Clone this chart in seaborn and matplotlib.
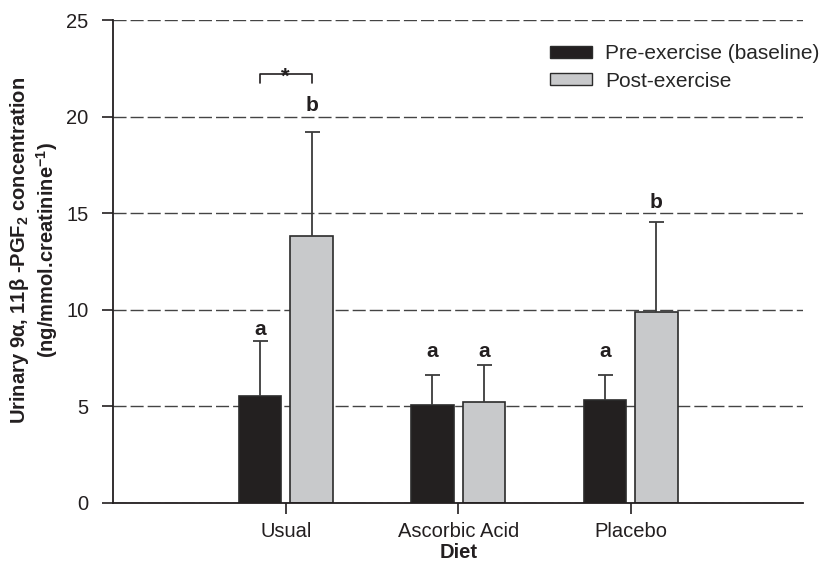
import numpy as np
import pandas as pd
import matplotlib
matplotlib.use("Agg")
import matplotlib.pyplot as plt
import seaborn as sns
from matplotlib.patches import Patch

# Urinary 9a,11b-PGF2 by diet, before and after exercise (mean and SD)
diets = ["Usual", "Ascorbic Acid", "Placebo"]
phases = ["Pre-exercise (baseline)", "Post-exercise"]
pre_mean = [5.5, 5.08, 5.3]
pre_sd = [2.9, 1.52, 1.3]
post_mean = [13.83, 5.2, 9.9]
post_sd = [5.37, 1.95, 4.65]
pre_letters = ["a", "a", "a"]
post_letters = ["b", "a", "b"]
y_ticks = [0, 5, 10, 15, 20, 25]

# baseline heights of the significance letters (data units)
pre_letter_y = [8.7, 7.55, 7.55]
post_letter_y = [20.3, 7.55, 15.25]

df = pd.DataFrame({
    "Diet": diets * 2,
    "Phase": [phases[0]] * len(diets) + [phases[1]] * len(diets),
    "value": pre_mean + post_mean,
})

sns.set_style("ticks")
plt.rcParams.update({
    "font.family": ["Liberation Sans", "DejaVu Sans"],
    "mathtext.fontset": "custom",
    "mathtext.rm": "Liberation Sans",
    "mathtext.bf": "Liberation Sans:bold",
    "mathtext.it": "Liberation Sans:italic",
})

ink = "#231f20"
colors = ["#231f20", "#c8c9cb"]

fig = plt.figure(figsize=(8.23, 5.7), dpi=100)
ax = fig.add_axes([0.1377, 0.1181, 0.838, 0.8468])

sns.barplot(data=df, x="Diet", y="value", hue="Phase", order=diets,
            hue_order=phases, palette=colors, width=0.6, gap=0.18,
            errorbar=None, edgecolor="#2b2b2b", linewidth=1.2,
            legend=False, ax=ax)

# one-sided (upper) SD bars
for cont, means, sds in zip(ax.containers, [pre_mean, post_mean], [pre_sd, post_sd]):
    xs = [b.get_x() + b.get_width() / 2 for b in cont]
    eb = ax.errorbar(xs, means, yerr=[np.zeros(len(sds)), sds], fmt="none",
                     ecolor="#3c3c3c", elinewidth=1.3, capsize=5.4,
                     capthick=1.3, zorder=3)
    for cap in eb[1]:
        if np.allclose(cap.get_ydata(), means):
            cap.set_visible(False)

# significance letters
for cont, letters, ly in zip(ax.containers, [pre_letters, post_letters],
                             [pre_letter_y, post_letter_y]):
    for b, lab, y in zip(cont, letters, ly):
        ax.text(b.get_x() + b.get_width() / 2, y, lab, ha="center",
                va="baseline", fontsize=15, fontweight="bold", color=ink)

# bracket between the Usual bars
b0 = ax.containers[0][0]
b1 = ax.containers[1][0]
x0 = b0.get_x() + b0.get_width() / 2
x1 = b1.get_x() + b1.get_width() / 2
ax.plot([x0, x0, x1, x1], [21.75, 22.2, 22.2, 21.75], color=ink, lw=1.2,
        zorder=3)
ax.text((x0 + x1) / 2, 21.75, "*", ha="center", va="baseline",
        fontsize=16, fontweight="bold", color=ink)

ax.set_xlim(-1, 3)
ax.set_ylim(0, 25)
ax.set_yticks(y_ticks)
ax.yaxis.grid(True, linestyle=(0, (9.4, 2.9)), color="#444444", lw=1.0)
ax.set_axisbelow(True)

for side in ["top", "right"]:
    ax.spines[side].set_visible(False)
for side in ["left", "bottom"]:
    ax.spines[side].set_color(ink)
    ax.spines[side].set_linewidth(1.3)

ax.tick_params(axis="both", direction="out", length=8, width=1.2,
               color=ink, labelsize=14.5, labelcolor=ink)
ax.tick_params(axis="y", pad=10)
ax.tick_params(axis="x", pad=6)

ax.set_xlabel("Diet", fontsize=14.5, fontweight="bold", color=ink, labelpad=1)
ax.set_ylabel("")

fig.text(34 / 823, 1 - 250 / 570,
         "Urinary 9α, 11β -PGF$_\\mathbf{2}$ concentration\n"
         "(ng/mmol.creatinine$^\\mathbf{-1}$)",
         rotation=90, ha="center", va="center", fontsize=14.5,
         fontweight="bold", color=ink, linespacing=1.2,
         multialignment="center")

handles = [Patch(facecolor=c, edgecolor="#2b2b2b", lw=1.0) for c in colors]
ax.legend(handles, phases, loc="upper left",
          bbox_to_anchor=(550 / 823, 1 - 44 / 570),
          bbox_transform=fig.transFigure, frameon=False, fontsize=15,
          handlelength=2.0, handleheight=0.5, handletextpad=0.65,
          labelspacing=0.42, borderpad=0, borderaxespad=0)

fig.savefig("out.png", dpi=100)
